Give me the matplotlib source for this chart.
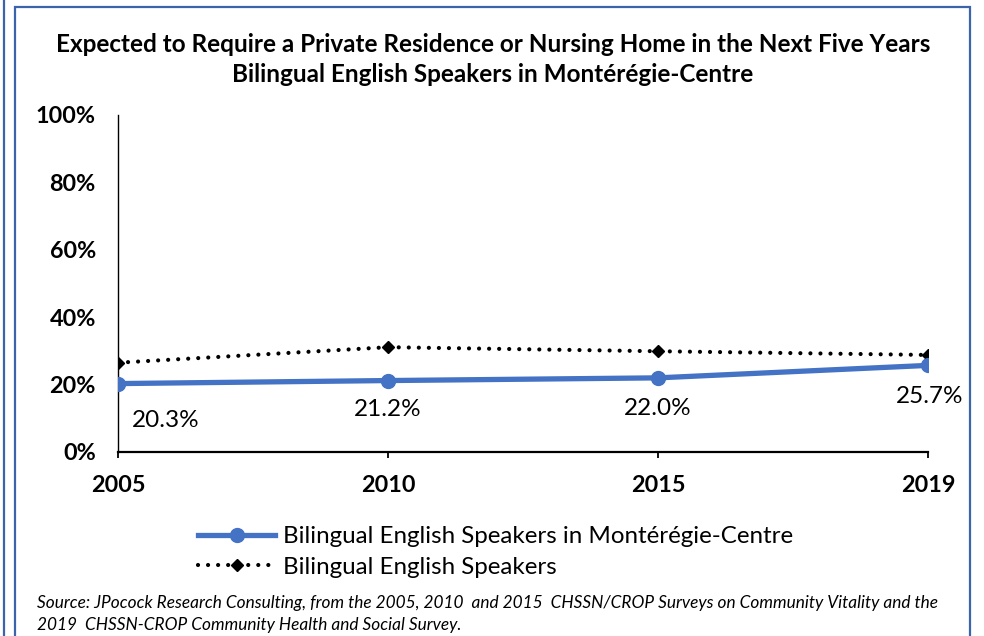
import matplotlib
matplotlib.use("Agg")
import matplotlib.pyplot as plt
from matplotlib.lines import Line2D
from matplotlib.patches import Rectangle

years = ["2005", "2010", "2015", "2019"]
monteregie = [20.3, 21.2, 22.0, 25.7]
bilingual = [26.5, 31.1, 29.9, 28.8]
yticks = [0, 20, 40, 60, 80, 100]
ytick_labels = ["0%", "20%", "40%", "60%", "80%", "100%"]
label_offsets_px = [(48, -37), (0, -29), (0, -31), (2, -31)]

title1 = "Expected to Require a Private Residence or Nursing Home in the Next Five Years"
title2 = "Bilingual English Speakers in Montérégie-Centre"
series1_name = "Bilingual English Speakers in Montérégie-Centre"
series2_name = "Bilingual English Speakers"
source1 = "Source: JPocock Research Consulting, from the 2005, 2010  and 2015  CHSSN/CROP Surveys on Community Vitality and the"
source2 = "2019  CHSSN-CROP Community Health and Social Survey."

plt.rcParams['font.family'] = ['Lato', 'DejaVu Sans']
BLUE = "#4472C4"
BORDER = "#3B64AD"

W, H = 984, 636
fig = plt.figure(figsize=(W / 100, H / 100), dpi=100)
fig.patch.set_facecolor("white")

# borders
fig.add_artist(Line2D([4 / W, 4 / W], [0, 1], transform=fig.transFigure, color=BORDER, lw=1.6))
fig.add_artist(Rectangle((15 / W, -0.05), (970 - 15) / W, 1.05 - 7 / H, transform=fig.transFigure,
                         fill=False, edgecolor=BORDER, lw=1.6))

ax = fig.add_axes([118 / W, 1 - 452 / H, (928 - 118) / W, (452 - 115) / H])
x = list(range(len(years)))
ax.plot(x, monteregie, color=BLUE, lw=3.8, marker='o', markersize=10, solid_capstyle='round', zorder=3)
ax.plot(x, bilingual, color='black', lw=3.0, linestyle=(0, (0.01, 2.4)), dash_capstyle='round',
        marker='D', markersize=6, zorder=2)

for xi, v, (dx, dy) in zip(x, monteregie, label_offsets_px):
    ax.annotate(f"{v:.1f}%", (xi, v), xytext=(dx * 0.72, dy * 0.72), textcoords='offset points',
                ha='center', va='center', fontsize=17.5, color='black')

ax.set_xlim(0, 3)
ax.set_ylim(0, 100)
ax.set_xticks(x)
ax.set_xticklabels(years, fontsize=16.8, fontweight='bold')
ax.set_yticks(yticks)
ax.set_yticklabels(ytick_labels, fontsize=16.8, fontweight='bold')
ax.tick_params(axis='y', length=0, pad=16)
ax.tick_params(axis='x', length=4.5, width=1.3, pad=12, direction='out')
for s in ['top', 'right']:
    ax.spines[s].set_visible(False)
ax.spines['left'].set_linewidth(1.0)
ax.spines['bottom'].set_linewidth(1.6)
ax.patch.set_alpha(0)
for sp in ax.spines.values():
    sp.set_clip_on(False)

fig.text(493 / W, 1 - 44 / H, title1, ha='center', va='center', fontsize=17.5, fontweight='bold')
fig.text(493 / W, 1 - 74 / H, title2, ha='center', va='center', fontsize=17.5, fontweight='bold')

h1 = Line2D([], [], color=BLUE, lw=3.8, marker='o', markersize=10)
h2 = Line2D([], [], color='black', lw=3.0, linestyle=(0, (0.01, 2.4)), dash_capstyle='round',
            marker='D', markersize=6)
fig.legend([h1, h2], [series1_name, series2_name], loc='center left',
           bbox_to_anchor=(198 / W, 1 - 552 / H), frameon=False, fontsize=17.4,
           handlelength=3.2, handletextpad=0.3, labelspacing=0.4, borderpad=0, borderaxespad=0)

fig.text(37 / W, 1 - 603 / H, source1, ha='left', va='center', fontsize=12.4, style='italic')
fig.text(37 / W, 1 - 625 / H, source2, ha='left', va='center', fontsize=12.4, style='italic')

fig.savefig("out.png", dpi=100, facecolor='white')
